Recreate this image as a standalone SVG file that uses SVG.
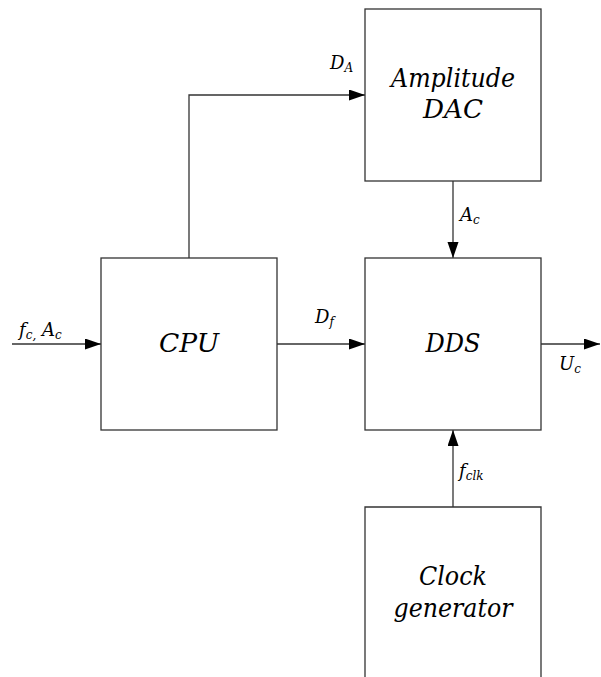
<svg xmlns="http://www.w3.org/2000/svg" width="601" height="677" viewBox="0 0 601 677">
<defs>
<marker id="arr" markerUnits="userSpaceOnUse" markerWidth="17" markerHeight="12" refX="16" refY="5.5" orient="auto">
<path d="M0,0 L16,5.5 L0,11 Z" fill="#000"/>
</marker>
<style>
.box{fill:#fff;stroke:#333;stroke-width:1.3}
.con{fill:none;stroke:#333;stroke-width:1.3}
text{font-family:'DejaVu Serif','Liberation Serif',serif;font-style:italic;fill:#000}
.big{font-size:26px}
.lab{font-size:18px}
.sub{font-size:12px}
</style>
</defs>
<rect width="601" height="677" fill="#fff"/>
<g id="connectors">
<path class="con" d="M12,344 H101" marker-end="url(#arr)"/>
<path class="con" d="M277,344 H365" marker-end="url(#arr)"/>
<path class="con" d="M541,344 H600" marker-end="url(#arr)"/>
<path class="con" d="M189,258 V95 H365" marker-end="url(#arr)"/>
<path class="con" d="M453,181 V258" marker-end="url(#arr)"/>
<path class="con" d="M453,507 V430" marker-end="url(#arr)"/>
</g>
<g id="cpu">
<rect class="box" x="101" y="258" width="176" height="172"/>
<text class="big" x="189" y="352" text-anchor="middle" textLength="60" lengthAdjust="spacingAndGlyphs">CPU</text>
</g>
<g id="dac">
<rect class="box" x="365" y="9" width="176" height="172"/>
<text class="big" x="453" y="87" text-anchor="middle" textLength="124" lengthAdjust="spacingAndGlyphs">Amplitude</text>
<text class="big" x="453" y="118" text-anchor="middle" textLength="60" lengthAdjust="spacingAndGlyphs">DAC</text>
</g>
<g id="dds">
<rect class="box" x="365" y="258" width="176" height="172"/>
<text class="big" x="453" y="352" text-anchor="middle" textLength="55" lengthAdjust="spacingAndGlyphs">DDS</text>
</g>
<g id="clock">
<path class="box" d="M365,680 V507 H541 V680"/>
<text class="big" x="453" y="585" text-anchor="middle" textLength="68" lengthAdjust="spacingAndGlyphs">Clock</text>
<text class="big" x="453" y="617" text-anchor="middle" textLength="119" lengthAdjust="spacingAndGlyphs">generator</text>
</g>
<g id="labels">
<text class="lab" x="19" y="336">f<tspan class="sub" dy="3">c,</tspan><tspan dy="-3"> A</tspan><tspan class="sub" dy="3">c</tspan></text>
<text class="lab" x="330" y="69">D<tspan class="sub" dy="3">A</tspan></text>
<text class="lab" x="460" y="221">A<tspan class="sub" dy="3">c</tspan></text>
<text class="lab" x="315" y="323">D<tspan class="sub" dy="3">f</tspan></text>
<text class="lab" x="559" y="370">U<tspan class="sub" dy="3">c</tspan></text>
<text class="lab" x="459" y="477">f<tspan class="sub" dy="3">clk</tspan></text>
</g>
</svg>
